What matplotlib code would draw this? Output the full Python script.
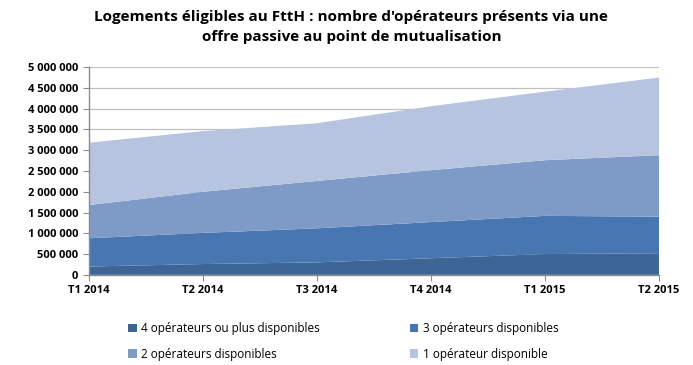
import matplotlib.pyplot as plt
from matplotlib.ticker import FuncFormatter

# Trimestres et nombre de logements
quarters = ["T1 2014", "T2 2014", "T3 2014", "T4 2014", "T1 2015", "T2 2015"]
ops4plus = [200000, 260000, 300000, 400000, 500000, 520000]
ops3 = [680000, 750000, 820000, 870000, 920000, 880000]
ops2 = [800000, 990000, 1140000, 1250000, 1340000, 1480000]
ops1 = [1500000, 1460000, 1390000, 1540000, 1650000, 1870000]

labels = ["4 opérateurs ou plus disponibles", "3 opérateurs disponibles",
          "2 opérateurs disponibles", "1 opérateur disponible"]
colors = ["#3d6595", "#4876b0", "#7e9bc8", "#b7c4df"]

plt.rcParams['font.family'] = ['Open Sans', 'DejaVu Sans']

fig = plt.figure(figsize=(6.93, 3.65), dpi=100)
ax = fig.add_axes([0.128, 0.247, 0.823, 0.569])

x = range(len(quarters))
polys = ax.stackplot(x, ops4plus, ops3, ops2, ops1, colors=colors, labels=labels, zorder=2)

ax.set_xlim(0, len(quarters) - 1)
ax.set_ylim(0, 5000000)
ax.set_yticks(range(0, 5000001, 500000))
ax.yaxis.set_major_formatter(FuncFormatter(lambda v, p: f"{int(v):,}".replace(",", " ")))
ax.set_xticks(list(x))
ax.set_xticklabels(quarters)
ax.grid(axis="y", color="#c0c0c0", linewidth=0.9, zorder=0)
ax.set_axisbelow(True)

for s in ["top", "right"]:
    ax.spines[s].set_visible(False)
for s in ["left", "bottom"]:
    ax.spines[s].set_color("#8c8c8c")
    ax.spines[s].set_linewidth(1.0)
ax.tick_params(axis="both", colors="#8c8c8c", length=4, labelcolor="black", labelsize=8)
for lab in ax.get_xticklabels() + ax.get_yticklabels():
    lab.set_fontweight("bold")

fig.text(0.507, 0.972, "Logements éligibles au FttH : nombre d'opérateurs présents via une\n"
         "offre passive au point de mutualisation",
         ha="center", va="top", fontsize=11, fontweight="bold", linespacing=1.5)

# legend filled row by row, as in the original
order = [0, 2, 1, 3]
fig.legend(handles=[polys[i] for i in order], labels=[labels[i] for i in order],
           loc="lower left", bbox_to_anchor=(0.17, -0.017),
           ncol=2, frameon=False, fontsize=8.5, handlelength=0.7, handleheight=0.7,
           handletextpad=0.4, columnspacing=7.6, labelspacing=1.05)

fig.savefig("out.png", dpi=100)
